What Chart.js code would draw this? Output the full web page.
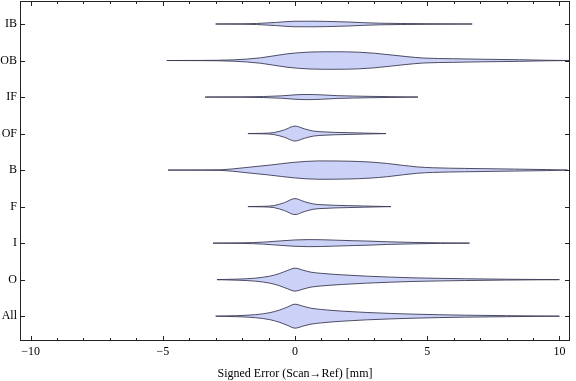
<!DOCTYPE html>
<html>
<head>
<meta charset="utf-8">
<script src="https://cdn.jsdelivr.net/npm/chart.js@4/dist/chart.umd.min.js"></script>
<style>
  html, body { margin: 0; padding: 0; background: #fff; }
</style>
</head>
<body>
<canvas id="grafico" width="576" height="381"></canvas>
<script>
// categorias de baixo para cima
const categorias = ['All', 'O', 'I', 'F', 'B', 'OF', 'IF', 'OB', 'IB'];
const xTicks = [-10, -5, 0, 5, 10];

// perfil de cada violino: erro (mm) e meia-largura (em unidades de linha)
const xAll = [-3.0, -2.2, -1.5, -0.95, -0.6, -0.3, 0, 0.3, 0.6, 1.0, 1.8, 2.7, 4.5, 6.4, 8.0, 10.0];
const wAll = [0, 0.014, 0.041, 0.096, 0.164, 0.246, 0.328, 0.273, 0.219, 0.183, 0.137, 0.101, 0.055, 0.027, 0.014, 0];

const xO = [-2.95, -2.2, -1.5, -0.95, -0.6, -0.3, 0, 0.3, 0.6, 1.0, 1.8, 2.7, 4.5, 6.4, 8.0, 10.0];
const wO = [0, 0.014, 0.041, 0.096, 0.164, 0.246, 0.314, 0.26, 0.205, 0.172, 0.131, 0.096, 0.049, 0.025, 0.011, 0];

const xI = [-3.1, -2.0, -1.2, -0.5, 0, 0.5, 1.0, 1.5, 2.2, 2.8, 3.5, 4.5, 5.5, 6.6];
const wI = [0, 0.008, 0.027, 0.063, 0.087, 0.096, 0.093, 0.082, 0.066, 0.055, 0.036, 0.019, 0.008, 0];

const xF = [-1.78, -1.2, -0.8, -0.4, 0, 0.35, 0.7, 1.1, 1.5, 2.0, 2.6, 3.63];
const wF = [0, 0.008, 0.027, 0.109, 0.219, 0.137, 0.071, 0.049, 0.036, 0.027, 0.016, 0];

const xB = [-4.8, -3.5, -2.8, -1.95, -0.95, -0.07, 0.9, 2.0, 2.8, 3.5, 4.1, 4.6, 5.2, 6.4, 8.3, 9.5, 10.3];
const wB = [0, 0.003, 0.008, 0.063, 0.137, 0.21, 0.251, 0.244, 0.222, 0.18, 0.128, 0.088, 0.064, 0.046, 0.027, 0.014, 0];

const xOF = [-1.78, -1.2, -0.8, -0.4, 0, 0.35, 0.7, 1.1, 1.5, 2.0, 2.6, 3.44];
const wOF = [0, 0.008, 0.027, 0.101, 0.205, 0.131, 0.068, 0.046, 0.033, 0.025, 0.014, 0];

const xIF = [-3.4, -2.0, -1.2, -0.5, 0, 0.45, 1.0, 1.6, 2.2, 2.8, 3.6, 4.65];
const wIF = [0, 0.005, 0.014, 0.033, 0.06, 0.071, 0.06, 0.038, 0.027, 0.019, 0.011, 0];

const xOB = [-4.85, -3.5, -2.3, -1.3, -0.3, 0.57, 1.5, 2.4, 3.0, 3.6, 4.2, 4.85, 6.0, 7.0, 8.5, 9.5, 10.4];
const wOB = [0, 0.003, 0.019, 0.074, 0.183, 0.232, 0.24, 0.228, 0.2, 0.155, 0.109, 0.068, 0.049, 0.036, 0.022, 0.008, 0];

const xIB = [-3.0, -2.0, -1.45, -0.7, -0.07, 0.6, 1.2, 2.0, 2.6, 3.2, 4.0, 5.0, 6.7];
const wIB = [0, 0.005, 0.014, 0.044, 0.074, 0.077, 0.071, 0.055, 0.036, 0.022, 0.014, 0.008, 0];

const perfis = [
  [xAll, wAll], [xO, wO], [xI, wI], [xF, wF], [xB, wB],
  [xOF, wOF], [xIF, wIF], [xOB, wOB], [xIB, wIB]
];

const corPreenchimento = 'rgb(204,210,247)';
const corBorda = 'rgba(60,60,85,0.9)';

function montaDatasets() {
  let lista = [];
  perfis.forEach((perfil, i) => {
    let pos = i + 1;
    let xs = perfil[0], ws = perfil[1];
    lista.push({
      data: xs.map((x, k) => ({ x: x, y: pos + ws[k] })),
      borderColor: corBorda, borderWidth: 1, pointRadius: 0,
      cubicInterpolationMode: 'monotone', fill: false
    });
    lista.push({
      data: xs.map((x, k) => ({ x: x, y: pos - ws[k] })),
      borderColor: corBorda, borderWidth: 1, pointRadius: 0,
      cubicInterpolationMode: 'monotone', fill: '-1',
      backgroundColor: corPreenchimento
    });
  });
  return lista;
}

// moldura com marcas para dentro, como no Mathematica
const moldura = {
  id: 'moldura',
  afterDraw(chart) {
    const ctx = chart.ctx;
    const a = chart.chartArea;
    const sx = chart.scales.x, sy = chart.scales.y;
    ctx.save();
    ctx.strokeStyle = '#222';
    ctx.lineWidth = 1;
    ctx.strokeRect(Math.round(a.left) + 0.5, Math.round(a.top) + 0.5,
      Math.round(a.right - a.left) - 1, Math.round(a.bottom - a.top) - 1);
    ctx.beginPath();
    for (let v = -10; v <= 10; v++) {
      let px = Math.round(sx.getPixelForValue(v)) + 0.5;
      let len = (v % 5 === 0) ? 5 : 3;
      ctx.moveTo(px, a.bottom); ctx.lineTo(px, a.bottom - len);
      ctx.moveTo(px, a.top); ctx.lineTo(px, a.top + len);
    }
    categorias.forEach((c, i) => {
      let py = Math.round(sy.getPixelForValue(i + 1)) + 0.5;
      ctx.moveTo(a.left, py); ctx.lineTo(a.left + 5, py);
      ctx.moveTo(a.right, py); ctx.lineTo(a.right - 5, py);
    });
    ctx.stroke();
    ctx.restore();
  }
};

const fonte = { family: 'Liberation Serif', size: 12 };

const grafico = new Chart(document.getElementById('grafico'), {
  type: 'line',
  data: { datasets: montaDatasets() },
  options: {
    responsive: false,
    animation: false,
    layout: { padding: { top: 1, right: 6, left: 0, bottom: 0 } },
    plugins: { legend: { display: false }, tooltip: { enabled: false } },
    scales: {
      x: {
        type: 'linear', min: -10.4, max: 10.4,
        afterBuildTicks: (s) => { s.ticks = xTicks.map(v => ({ value: v })); },
        afterFit: (s) => { s.height = 40; s.paddingLeft = 0; s.paddingRight = 0; },
        grid: { display: false, drawTicks: false }, border: { display: false },
        ticks: {
          font: fonte, color: '#000', padding: 4, maxRotation: 0,
          callback: (v) => v < 0 ? '\u2212' + Math.abs(v) : String(v)
        },
        title: {
          display: true, text: 'Signed Error (Scan\u2192Ref) [mm]',
          font: fonte, color: '#000', padding: { top: 3, bottom: 0 }
        }
      },
      y: {
        type: 'linear', min: 0.32, max: 9.63,
        afterBuildTicks: (s) => { s.ticks = categorias.map((c, i) => ({ value: i + 1 })); },
        afterFit: (s) => { s.width = 20; s.paddingTop = 0; s.paddingBottom = 0; },
        grid: { display: false, drawTicks: false }, border: { display: false },
        ticks: {
          font: fonte, color: '#000', padding: 3,
          callback: (v) => categorias[v - 1]
        }
      }
    }
  },
  plugins: [moldura]
});
</script>
</body>
</html>
